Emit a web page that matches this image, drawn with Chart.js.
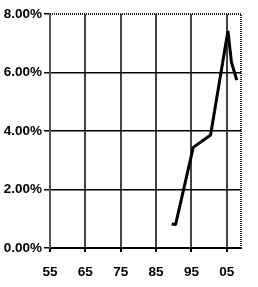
<!DOCTYPE html>
<html>
<head>
<meta charset="utf-8">
<script src="https://cdn.jsdelivr.net/npm/chart.js@4.4.0/dist/chart.umd.min.js"></script>
<style>
  html, body { margin: 0; padding: 0; background: #fff; }
  #wrap { width: 258px; height: 287px; }
</style>
</head>
<body>
<div id="wrap"><canvas id="rateChart" width="258" height="287"></canvas></div>
<script>
// values
const years = [1989.4, 1990.5, 1995.5, 2000.4, 2005.3, 2006.3, 2007.8];
const rates = [0.82, 0.80, 3.44, 3.86, 7.42, 6.35, 5.74];
const xTicks = [1955, 1965, 1975, 1985, 1995, 2005];
const yTicks = [0, 2, 4, 6, 8];

const points = years.map((y, i) => ({ x: y, y: rates[i] }));

// dotted frame on top and right, like the original
const dottedFrame = {
    id: 'dottedFrame',
    afterDraw(chart) {
        const { ctx, chartArea: a } = chart;
        ctx.save();
        ctx.strokeStyle = '#222';
        ctx.lineWidth = 2;
        ctx.setLineDash([1, 1]);
        ctx.beginPath();
        ctx.moveTo(a.left, a.top);
        ctx.lineTo(a.right, a.top);
        ctx.lineTo(a.right, a.bottom);
        ctx.stroke();
        ctx.restore();
    }
};

const font = { family: '"Liberation Sans", Arial, sans-serif', size: 13.5, weight: 'bold' };

new Chart(document.getElementById('rateChart'), {
    type: 'line',
    data: {
        datasets: [{
            data: points,
            borderColor: '#000',
            borderWidth: 3,
            borderJoinStyle: 'bevel',
            pointRadius: 0,
            tension: 0,
            fill: false
        }]
    },
    options: {
        responsive: false,
        animation: false,
        layout: { padding: { top: 14, right: 17, left: 0, bottom: 0 } },
        plugins: { legend: { display: false }, tooltip: { enabled: false } },
        scales: {
            x: {
                type: 'linear',
                min: 1955,
                max: 2009,
                afterBuildTicks(scale) { scale.ticks = xTicks.map(v => ({ value: v })); },
                afterFit(scale) { scale.height = 39; },
                ticks: {
                    color: '#000',
                    font: font,
                    padding: 12,
                    maxRotation: 0,
                    callback: v => String(v % 100).padStart(2, '0')
                },
                grid: {
                    color: '#444',
                    lineWidth: 2,
                    tickLength: 4,
                    tickColor: '#000'
                },
                border: { color: '#000', width: 2 }
            },
            y: {
                min: 0,
                max: 8,
                afterBuildTicks(scale) { scale.ticks = yTicks.map(v => ({ value: v })); },
                afterFit(scale) { scale.width = 50; },
                ticks: {
                    color: '#000',
                    font: font,
                    padding: 2,
                    callback: v => v.toFixed(2) + '%'
                },
                grid: {
                    color: ctx => ctx.tick && ctx.tick.value === 8 ? 'rgba(0,0,0,0)' : '#000',
                    lineWidth: 1.5,
                    tickLength: 6,
                    tickColor: '#000'
                },
                border: { color: '#555', width: 2 }
            }
        }
    },
    plugins: [dottedFrame]
});
</script>
</body>
</html>
